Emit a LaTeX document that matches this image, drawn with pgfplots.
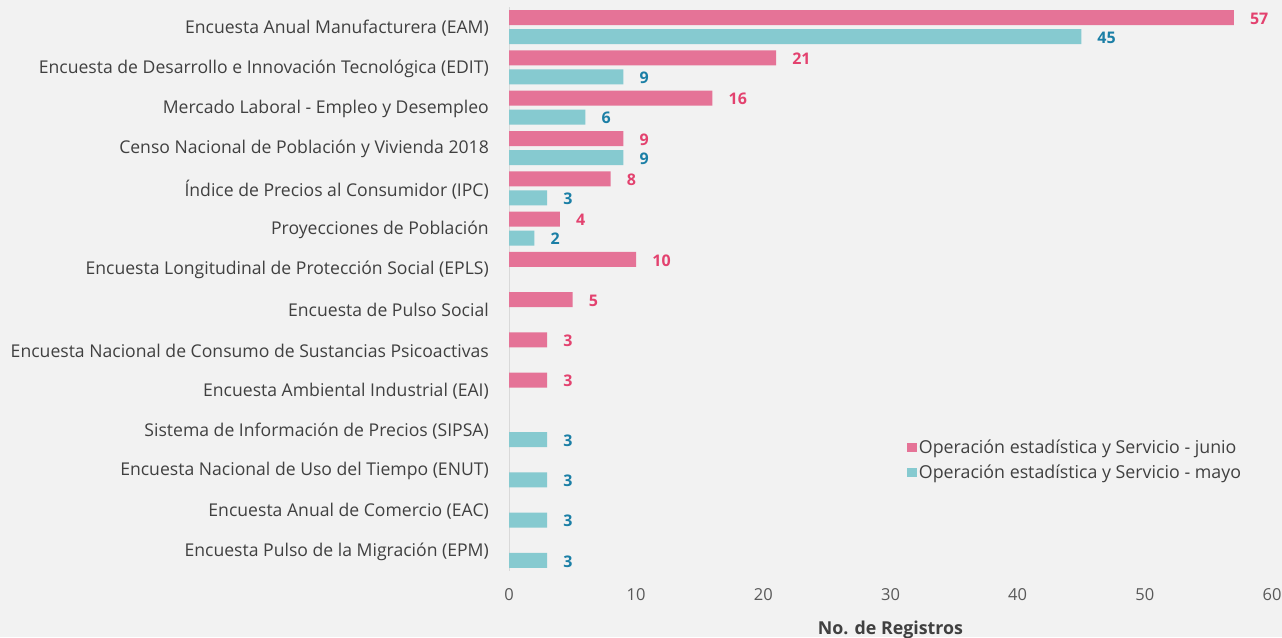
\documentclass[border=0pt]{standalone}
\usepackage{pgfplots}
\pgfplotsset{compat=1.18}
\usepackage{fontspec}
\setmainfont{Open Sans}
\definecolor{bg}{HTML}{F2F2F2}
\definecolor{pinkbar}{HTML}{E57397}
\definecolor{tealbar}{HTML}{86CAD0}
\definecolor{pinklab}{HTML}{E3426F}
\definecolor{teallab}{HTML}{1B7FA6}
\definecolor{txt}{HTML}{404040}
\definecolor{tck}{HTML}{595959}
\begin{document}
\begin{tikzpicture}[x=1pt,y=1pt]
\fill[bg] (0,0) rectangle (1282,637);
\useasboundingbox (0,0) rectangle (1282,637);
\begin{axis}[
  at={(509pt,66pt)}, anchor=south west,
  scale only axis, width=763pt, height=564pt,
  xmin=0, xmax=60, xtick={0,10,...,60},
  ymin=-0.5, ymax=13.5, y dir=reverse,
  ytick={0,...,13},
  yticklabels={
    Encuesta Anual Manufacturera (EAM),
    Encuesta de Desarrollo e Innovación Tecnológica (EDIT),
    Mercado Laboral - Empleo y Desempleo,
    Censo Nacional de Población y Vivienda 2018\hspace{5pt},
    Índice de Precios al Consumidor (IPC),
    Proyecciones de Población,
    Encuesta Longitudinal de Protección Social (EPLS),
    Encuesta de Pulso Social\hspace{5pt},
    Encuesta Nacional de Consumo de Sustancias Psicoactivas,
    Encuesta Ambiental Industrial (EAI),
    Sistema de Información de Precios (SIPSA),
    Encuesta Nacional de Uso del Tiempo (ENUT),
    Encuesta Anual de Comercio (EAC),
    Encuesta Pulso de la Migración (EPM)\hspace{5pt}},
  axis lines*=left,
  x axis line style={draw=none},
  y axis line style={draw=black!15, line width=1pt},
  major tick length=0pt,
  /pgf/number format/assume math mode=true,
  yticklabel style={font=\fontsize{17.6}{21}\selectfont, color=txt, inner sep=0pt, xshift=-20pt, yshift=-1pt},
  xticklabel style={font=\fontsize{16.5}{20}\selectfont, color=tck, inner sep=0pt, yshift=-17pt},
  xlabel={\bfseries No. de Registros},
  xlabel style={font=\fontsize{17.8}{21}\selectfont, color=txt, inner sep=0pt, yshift=-20pt},
  xbar, bar width=15pt,
  nodes near coords,
  every node near coord/.append style={font=\fontsize{16}{19}\selectfont\bfseries, inner sep=0pt, xshift=16pt, yshift=-1pt},
  legend style={at={(0.518,0.240)}, anchor=north west, draw=none, fill=none,
    font=\fontsize{17.8}{21}\selectfont, text=txt, row sep=6pt,
    /tikz/every even column/.append style={column sep=3pt}},
  legend cell align=left,
  legend image code/.code={\fill[#1,draw=none] (0pt,-4.5pt) rectangle (9.5pt,4.5pt);},
]
\addplot[fill=pinkbar, draw=none, bar shift=9.5pt, every node near coord/.append style={color=pinklab}]
 coordinates {(57,0) (21,1) (16,2) (9,3) (8,4) (4,5) (10,6) (5,7) (3,8) (3,9)};
\addlegendentry{Operación estadística y Servicio - junio}
\addplot[fill=tealbar, draw=none, bar shift=-9.5pt, every node near coord/.append style={color=teallab}]
 coordinates {(45,0) (9,1) (6,2) (9,3) (3,4) (2,5) (3,10) (3,11) (3,12) (3,13)};
\addlegendentry{Operación estadística y Servicio - mayo}
\end{axis}
\end{tikzpicture}
\end{document}
